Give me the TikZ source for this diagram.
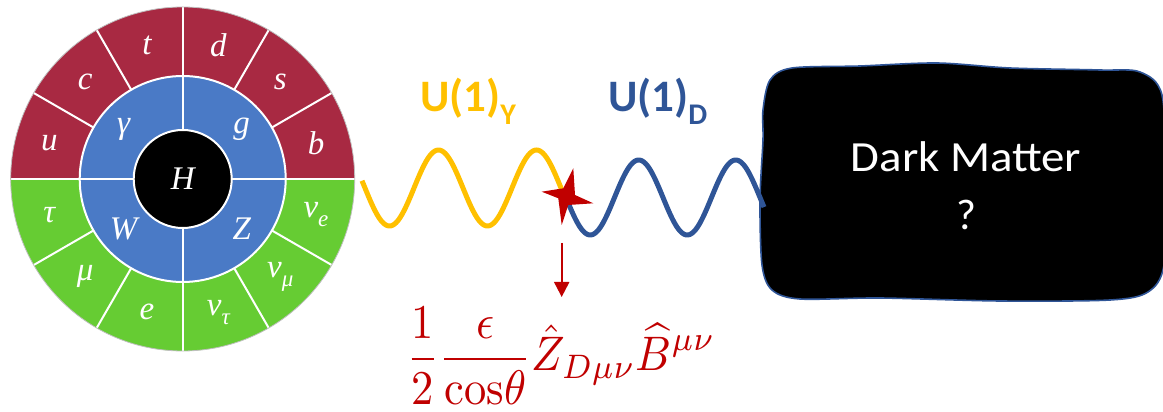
\documentclass[tikz,border=0pt]{standalone}
\usepackage{fontspec}
\setsansfont{Carlito}
\newfontfamily\tms{Liberation Serif}
\usetikzlibrary{arrows.meta}
\definecolor{qred}{RGB}{168,41,66}
\definecolor{gblue}{RGB}{74,122,198}
\definecolor{lgreen}{RGB}{102,204,51}
\definecolor{uyel}{RGB}{255,192,0}
\definecolor{dblue}{RGB}{47,85,151}
\definecolor{dred}{RGB}{192,0,0}
\tikzset{
  wlab/.style={text=white, inner sep=0, font=\tms\itshape\fontsize{33}{36}\selectfont},
  divline/.style={white, line width=2pt},
  ulab/.style={anchor=base west, inner sep=0, font=\sffamily\bfseries\fontsize{45}{50}\selectfont},
  wave/.style={line width=5pt},
  dmtext/.style={text=white, anchor=base, inner sep=0, font=\sffamily\fontsize{43}{50}\selectfont}
}
\newcommand{\sbsc}[1]{\raisebox{-0.28em}{\fontsize{23}{24}\selectfont #1}}
\begin{document}
\begin{tikzpicture}[x=1pt,y=1pt]
\useasboundingbox (0,0) rectangle (1163,412);
\clip (0,0) rectangle (1163,412);
% ---------- wheel ----------
\coordinate (C) at (182.7,233);
\fill[qred] (C) -- ++(0:172) arc[start angle=0,end angle=180,radius=172] -- cycle;
\fill[lgreen] (C) -- ++(180:172) arc[start angle=180,end angle=360,radius=172] -- cycle;
\fill[gblue] (C) circle[radius=103];
\foreach \a in {0,30,...,330} \draw[divline] (C) ++(\a:103) -- ++(\a:69);
\foreach \a in {0,90,180,270} \draw[divline] (C) ++(\a:49) -- ++(\a:54);
\draw[divline] (C) circle[radius=103];
\draw[gray!50, line width=0.8pt] (C) circle[radius=172];
\node[circle, fill=black, draw=white, line width=2pt, minimum size=98pt, inner sep=0, text=white, font=\tms\itshape\fontsize{33}{36}\selectfont] (H) at (C) {H};
% outer labels
\node[wlab] (lu) at ([shift={(165:138)}]C) {u};
\node[wlab] (lc) at ([shift={(135:138)}]C) {c};
\node[wlab] (lt) at ([shift={(105:138)}]C) {t};
\node[wlab] (ld) at ([shift={(75:138)}]C) {d};
\node[wlab] (ls) at ([shift={(45:138)}]C) {s};
\node[wlab] (lb) at ([shift={(15:138)}]C) {b};
\node[wlab] (ltau) at ([shift={(195:138)}]C) {τ};
\node[wlab] (lmu) at ([shift={(225:138)}]C) {μ};
\node[wlab] (le) at ([shift={(255:138)}]C) {e};
\node[wlab] (lnt) at ([shift={(285:138)}]C) {ν\sbsc{τ}};
\node[wlab] (lnm) at ([shift={(315:138)}]C) {ν\sbsc{μ}};
\node[wlab] (lne) at ([shift={(345:138)}]C) {ν\sbsc{e}};
% inner labels
\node[wlab] (lg) at ([shift={(140:77)}]C) {γ};
\node[wlab] (lgl) at ([shift={(40:77)}]C) {g};
\node[wlab] (lW) at ([shift={(220:77)}]C) {W};
\node[wlab] (lZ) at ([shift={(320:77)}]C) {Z};
% ---------- dark matter box ----------
\path[fill=black, draw=dblue, line width=1.6pt] plot[smooth cycle, tension=0.5] coordinates {
 (763,302) (770,332) (792,344) (860,346) (937,349) (1010,344) (1100,342) (1140,340)
 (1162,317) (1166,232) (1164,147) (1148,120) (1110,112) (1000,111) (880,114) (800,113)
 (772,122) (762,147) (760,212) (763,272)};
\node[dmtext] (dm) at (966,240.3) {\scalebox{1.09}[1]{Dark Matter}};
\node[dmtext] (qm) at (966,182) {?};
% ---------- waves ----------
\draw[wave, uyel] plot[domain=362:563, samples=160] (\x, {224-38*sin(3.67347*(\x-365))});
\draw[wave, dblue] plot[domain=566:764, samples=160] (\x, {214.5-37.5*sin(3.71134*(\x-566))});
\node[ulab, text=uyel] (uy) at (420,300.3) {U(1)\raisebox{-13pt}{\fontsize{30}{30}\selectfont Y}};
\node[ulab, text=dblue] (ud) at (608,300.3) {U(1)\raisebox{-13pt}{\fontsize{30}{30}\selectfont D}};
% ---------- star ----------
\fill[dred] (573.3,243.7) -- (563.3,223.7) -- (541.7,220.3) -- (558.3,213.7) -- (561.7,187)
  -- (568.3,207) -- (593.3,208.7) -- (575,217) -- cycle;
% ---------- arrow + formula ----------
\coordinate (a1) at (561.7,169);
\coordinate (a2) at (561.7,115);
\draw[dred, line width=2pt, -{Triangle[width=15pt,length=15pt]}] (a1) -- (a2);
\node[text=dred, anchor=south west, inner sep=0] (f) at (406,7)
  {\scalebox{4.45}[4.85]{$\displaystyle\frac{1}{2}\frac{\epsilon}{\mathrm{cos}\theta}\hat{Z}_{D\mu\nu}\widehat{B}^{\mu\nu}$}};
\end{tikzpicture}
\end{document}
